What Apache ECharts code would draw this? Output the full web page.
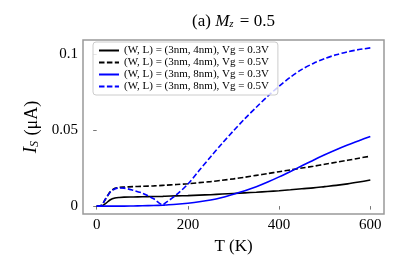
<!DOCTYPE html>
<html>
<head>
<meta charset="utf-8">
<script src="https://cdn.jsdelivr.net/npm/echarts@6/dist/echarts.min.js"></script>
<style>html,body{margin:0;padding:0;background:#fff}#c{width:403px;height:269px}</style>
</head>
<body>
<div id="c"></div>
<script>
const T = [0,10,20,30,40,50,60,80,100,125,145,150,175,200,225,250,275,300,325,350,375,400,425,450,475,500,525,550,575,600];
const L4_V03 = [0,0,0.0018,0.0042,0.0053,0.0057,0.0059,0.006,0.0061,0.0063,0.0064,0.0065,0.0067,0.0069,0.0072,0.0075,0.0079,0.0083,0.0087,0.0091,0.0096,0.0101,0.0107,0.0114,0.012,0.0128,0.0136,0.0146,0.0158,0.0171];
const L4_V05 = [0,0.0005,0.005,0.0095,0.0117,0.0123,0.0125,0.0128,0.013,0.0133,0.0136,0.0137,0.0142,0.0147,0.0154,0.0161,0.017,0.0179,0.019,0.0202,0.0214,0.0226,0.0238,0.025,0.0262,0.0275,0.0288,0.0301,0.0315,0.0328];
const L8_V03 = [0,0,0,0,0,0,0,0.0001,0.0002,0.0004,0.0006,0.0007,0.0012,0.0019,0.0028,0.004,0.0057,0.0078,0.0101,0.0127,0.0158,0.0192,0.0228,0.0265,0.0302,0.0337,0.037,0.0401,0.043,0.0458];
const L8_V05 = [0,0.0005,0.005,0.0093,0.0113,0.0119,0.0118,0.0104,0.0085,0.0048,0.0009,0.0019,0.0075,0.0145,0.0235,0.0325,0.0412,0.0495,0.0575,0.065,0.0722,0.0788,0.0848,0.0899,0.0938,0.097,0.0995,0.1014,0.1029,0.104];
const names = ['(W, L) = (3nm, 4nm), Vg = 0.3V','(W, L) = (3nm, 4nm), Vg = 0.5V','(W, L) = (3nm, 8nm), Vg = 0.3V','(W, L) = (3nm, 8nm), Vg = 0.5V'];
const xTicks = [0,200,400,600];
const yTicks = [0,0.05,0.1];

const FONT = 'Liberation Serif';
const pair = arr => T.map((t,i)=>[t,arr[i]]);
const dash = [5.5,2.4];
function mk(name, data, color, type){
  return {name, type:'line', data:pair(data), showSymbol:false, symbol:'none', smooth:0.3,
    lineStyle:{color, width:1.6, type}, itemStyle:{color}, z: 3};
}
const chart = echarts.init(document.getElementById('c'));
chart.setOption({
  animation:false,
  backgroundColor:'#fff',
  graphic:[{type:'text', x:233.5, y:20, style:{
    text:'{n|(a) }{i|M}{s|z}{n| = 0.5}', align:'center', verticalAlign:'middle',
    rich:{n:{fontFamily:FONT,fontSize:17,fill:'#000',lineHeight:20,verticalAlign:'bottom'},
          i:{fontFamily:FONT,fontSize:17,fontStyle:'italic',fill:'#000',lineHeight:20,verticalAlign:'bottom'},
          s:{fontFamily:FONT,fontSize:11,fontStyle:'italic',fill:'#000',lineHeight:20,verticalAlign:'bottom',padding:[0,2,0,0]}}
  }}],
  grid:{left:83,right:19,top:40,bottom:55,show:true,borderColor:'#999',borderWidth:1.5,backgroundColor:'transparent'},
  legend:{orient:'vertical',left:93,top:42,padding:[3,9,3,5],itemWidth:20,itemHeight:8,itemGap:1,itemTextGap:5,
    backgroundColor:'rgba(255,255,255,0.8)',borderColor:'#ccc',borderWidth:1,borderRadius:3,
    itemStyle:{opacity:0},
    textStyle:{fontFamily:FONT,fontSize:11,color:'#000',lineHeight:11},
    data:names},
  xAxis:{type:'value',min:-30,max:630,
    axisLine:{show:false},
    splitLine:{show:false},
    axisTick:{show:true,length:3.5,lineStyle:{color:'#777',width:1},customValues:xTicks},
    axisLabel:{fontFamily:FONT,fontSize:15,color:'#000',margin:4,customValues:xTicks},
    name:'T (K)',nameLocation:'middle',nameGap:10,
    nameTextStyle:{fontFamily:FONT,fontSize:17,color:'#000'}},
  yAxis:{type:'value',min:-0.0052,max:0.1092,
    axisLine:{show:false},
    splitLine:{show:false},
    axisTick:{show:true,length:3.5,lineStyle:{color:'#777',width:1},customValues:yTicks},
    axisLabel:{fontFamily:FONT,fontSize:15,color:'#000',margin:5,customValues:yTicks,
      formatter:v=>String(Math.round(v*1000)/1000)},
    name:'{i|I}{s|S}{n| (μA)}',nameLocation:'middle',nameGap:32,nameRotate:90,
    nameTextStyle:{rich:{
      i:{fontFamily:FONT,fontSize:19,fontStyle:'italic',color:'#000',lineHeight:22,verticalAlign:'bottom'},
      s:{fontFamily:FONT,fontSize:12,fontStyle:'italic',color:'#000',lineHeight:22,verticalAlign:'bottom',padding:[0,1,0,0]},
      n:{fontFamily:FONT,fontSize:18,color:'#000',lineHeight:22,verticalAlign:'bottom'}}}},
  series:[
    mk(names[0],L4_V03,'#000','solid'),
    mk(names[1],L4_V05,'#000',dash),
    mk(names[2],L8_V03,'#0000ff','solid'),
    mk(names[3],L8_V05,'#0000ff',dash)
  ]
});
</script>
</body>
</html>
